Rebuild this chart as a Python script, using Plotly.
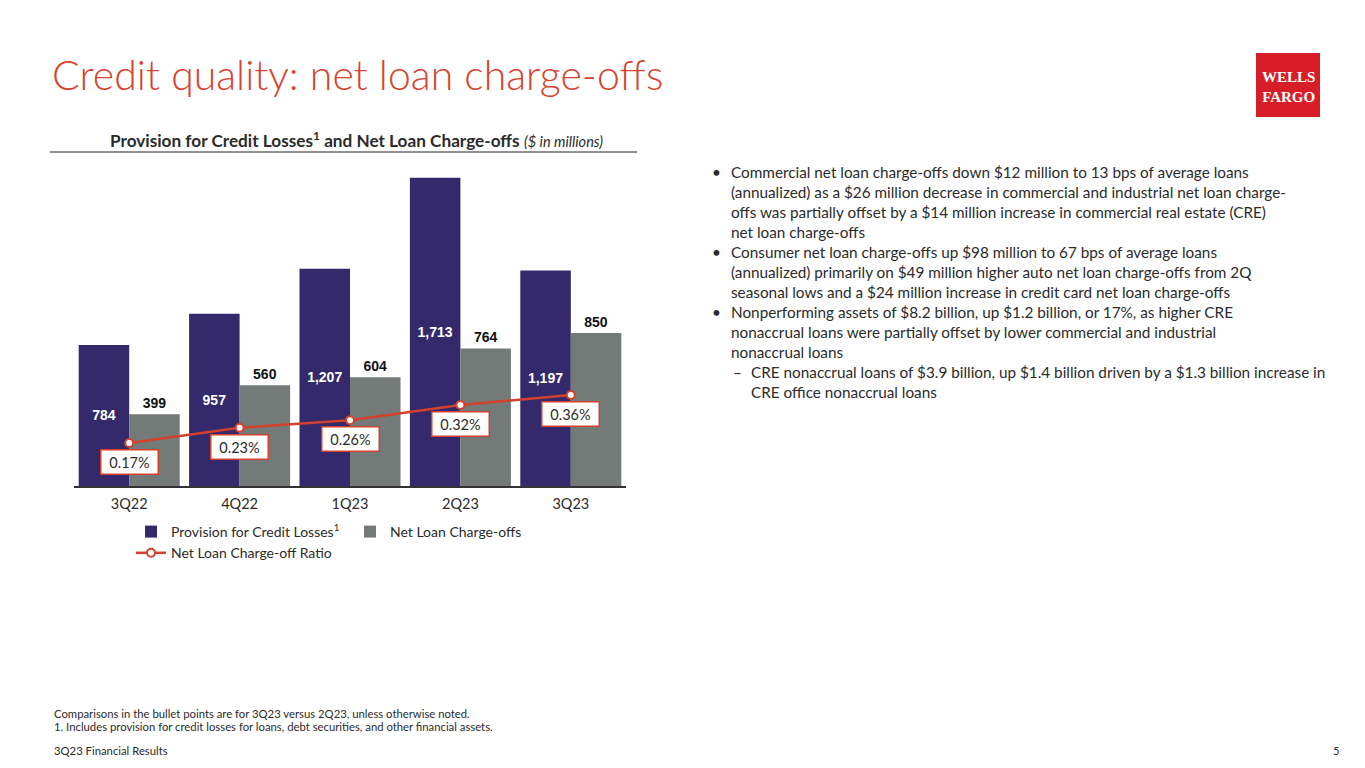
import plotly.graph_objects as go

# ---------------- data ----------------
quarters = ["3Q22", "4Q22", "1Q23", "2Q23", "3Q23"]
provision = [784, 957, 1207, 1713, 1197]
net_charge_offs = [399, 560, 604, 764, 850]
nco_ratio_pct = [0.17, 0.23, 0.26, 0.32, 0.36]

bullet_lines = [
    ("b", "Commercial net loan charge-offs down $12 million to 13 bps of average loans"),
    ("c", "(annualized) as a $26 million decrease in commercial and industrial net loan charge-"),
    ("c", "offs was partially offset by a $14 million increase in commercial real estate (CRE)"),
    ("c", "net loan charge-offs"),
    ("b", "Consumer net loan charge-offs up $98 million to 67 bps of average loans"),
    ("c", "(annualized) primarily on $49 million higher auto net loan charge-offs from 2Q"),
    ("c", "seasonal lows and a $24 million increase in credit card net loan charge-offs"),
    ("b", "Nonperforming assets of $8.2 billion, up $1.2 billion, or 17%, as higher CRE"),
    ("c", "nonaccrual loans were partially offset by lower commercial and industrial"),
    ("c", "nonaccrual loans"),
    ("s", "CRE nonaccrual loans of $3.9 billion, up $1.4 billion driven by a $1.3 billion increase in"),
    ("sc", "CRE office nonaccrual loans"),
]

# ---------------- style ----------------
NAVY = "#33296b"
GRAY = "#737a77"
RED = "#d3402d"
TITLE_RED = "#d5432f"
LOGO_RED = "#d71e28"
TXT = "#2b2b2b"
BODY_FONT = "Lato"
W, H = 1365, 768
L, R, T, B = 74, 626, 171, 486  # plot area in pixels


def px(x):
    return (x - L) / (R - L)


def py(y):
    return (B - y) / (B - T)


fig = go.Figure()

fig.add_trace(go.Bar(
    x=quarters, y=provision, name="Provision for Credit Losses<sup>1</sup>",
    marker=dict(color=NAVY, line=dict(width=0)),
    texttemplate="%{y:,}", textposition="inside", insidetextanchor="middle",
    textfont=dict(family="Liberation Sans", size=14, color="white", weight="bold"),
    offsetgroup="p",
))
fig.add_trace(go.Bar(
    x=quarters, y=net_charge_offs, name="Net Loan Charge-offs",
    marker=dict(color=GRAY, line=dict(width=0)),
    texttemplate="%{y:,}", textposition="outside",
    textfont=dict(family="Liberation Sans", size=14, color="#111111", weight="bold"),
    offsetgroup="n", cliponaxis=False,
))
fig.add_trace(go.Scatter(
    x=quarters, y=nco_ratio_pct, name="Net Loan Charge-off Ratio", yaxis="y2",
    mode="lines+markers",
    line=dict(color=RED, width=2.5),
    marker=dict(symbol="circle", size=8, color="white", line=dict(color=RED, width=2)),
    cliponaxis=False,
))

annotations = []
# ratio labels boxed
for q, r in zip(quarters, nco_ratio_pct):
    annotations.append(dict(
        x=q, y=r, xref="x", yref="y2", text=f"{r:.2f}%", showarrow=False,
        yshift=-19, font=dict(family=BODY_FONT, size=14.5, color=TXT),
        bgcolor="white", bordercolor=RED, borderwidth=1.5, borderpad=2,
        width=52, height=19, xanchor="center", yanchor="middle",
    ))

# title
annotations.append(dict(
    x=px(50), y=py(75), xref="paper", yref="paper", xanchor="left", yanchor="middle",
    text="Credit quality: net loan charge-offs", showarrow=False,
    font=dict(family=BODY_FONT, size=41, color=TITLE_RED, weight=300),
))
# chart subtitle
annotations.append(dict(
    x=px(357), y=py(140), xref="paper", yref="paper", xanchor="center", yanchor="middle",
    text="<b>Provision for Credit Losses<sup>1</sup> and Net Loan Charge-offs</b> "
         "<i><span style='font-size:14.5px'>($ in millions)</span></i>",
    showarrow=False, font=dict(family=BODY_FONT, size=17.2, color=TXT),
))

# bullets
BFS = 15.3
for i, (kind, line) in enumerate(bullet_lines):
    yy = py(172 + 20 * i)
    if kind == "b":
        annotations.append(dict(x=px(710), y=yy, xref="paper", yref="paper", xanchor="left",
                                yanchor="middle", text="•", showarrow=False,
                                font=dict(family=BODY_FONT, size=BFS, color=TXT)))
    if kind == "s":
        annotations.append(dict(x=px(731), y=yy, xref="paper", yref="paper", xanchor="left",
                                yanchor="middle", text="–", showarrow=False,
                                font=dict(family=BODY_FONT, size=BFS, color=TXT)))
    x0 = 729 if kind in ("b", "c") else 749
    annotations.append(dict(x=px(x0), y=yy, xref="paper", yref="paper", xanchor="left",
                            yanchor="middle", text=line, showarrow=False,
                            font=dict(family=BODY_FONT, size=BFS, color=TXT)))

# footnotes
foot = [
    (52, 713, "Comparisons in the bullet points are for 3Q23 versus 2Q23, unless otherwise noted."),
    (52, 726, "1. Includes provision for credit losses for loans, debt securities, and other financial assets."),
    (52, 750, "3Q23 Financial Results"),
]
for x0, y0, t in foot:
    annotations.append(dict(x=px(x0), y=py(y0), xref="paper", yref="paper", xanchor="left",
                            yanchor="middle", text=t, showarrow=False,
                            font=dict(family=BODY_FONT, size=11.3, color=TXT)))
annotations.append(dict(x=px(1342), y=py(750), xref="paper", yref="paper", xanchor="right",
                        yanchor="middle", text="5", showarrow=False,
                        font=dict(family=BODY_FONT, size=11.3, color=TXT)))

# logo text
annotations.append(dict(x=px(1288), y=py(87), xref="paper", yref="paper", xanchor="center",
                        yanchor="middle", text="<b>WELLS<br>FARGO</b>", showarrow=False,
                        font=dict(family="Liberation Serif", size=15, color="white")))

shapes = [
    dict(type="line", xref="paper", yref="paper", x0=px(50), x1=px(637), y0=py(152), y1=py(152),
         line=dict(color="#222222", width=1)),
    dict(type="rect", xref="paper", yref="paper", x0=px(1256), x1=px(1320), y0=py(53), y1=py(117),
         fillcolor=LOGO_RED, line=dict(width=0), layer="below"),
]

fig.update_layout(
    width=W, height=H,
    margin=dict(l=L, r=W - R, t=T, b=H - B, pad=0),
    paper_bgcolor="white", plot_bgcolor="white",
    barmode="group", bargap=0.085, bargroupgap=0,
    showlegend=True,
    legend=dict(orientation="h", x=px(131), y=py(516), xanchor="left", yanchor="top",
                font=dict(family=BODY_FONT, size=14, color=TXT),
                entrywidth=174, entrywidthmode="pixels", itemwidth=30,
                bgcolor="rgba(0,0,0,0)", traceorder="normal"),
    xaxis=dict(showgrid=False, showline=True, linecolor="#333333", linewidth=1.5,
               ticks="", tickfont=dict(family=BODY_FONT, size=14.5, color=TXT),
               ticklabelstandoff=4, zeroline=False),
    yaxis=dict(range=[0, 1750], visible=False, showgrid=False, zeroline=False),
    yaxis2=dict(range=[0, 1.245], overlaying="y", visible=False, showgrid=False, zeroline=False),
    annotations=annotations, shapes=shapes,
    font=dict(family=BODY_FONT, color=TXT),
)

fig.write_html("out.html", config={"displayModeBar": False},
               post_script="document.body.style.margin='0';document.body.style.overflow='hidden';")
